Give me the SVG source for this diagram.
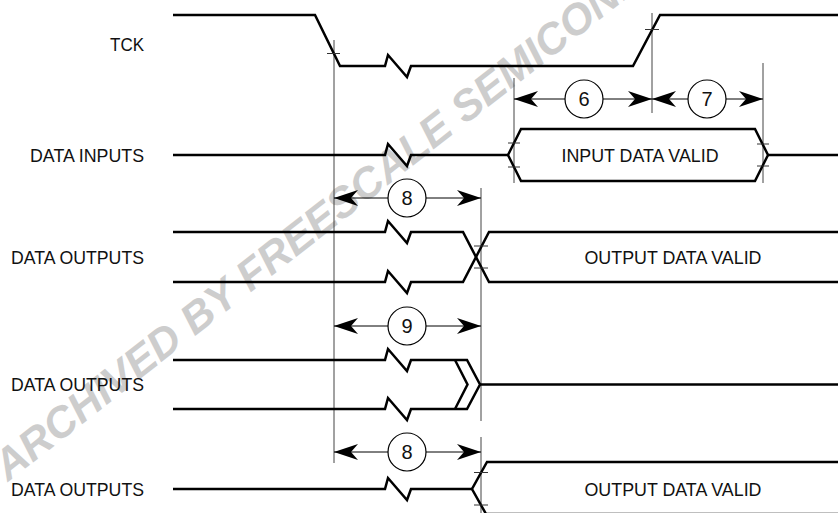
<svg xmlns="http://www.w3.org/2000/svg" width="838" height="513" viewBox="0 0 838 513">
<style>
.wm{font-family:"Liberation Sans",Arial,sans-serif;font-weight:bold;font-style:italic;font-size:43px;fill:#cdcdcd}
.lbl{font-family:"Liberation Sans",Arial,sans-serif;font-size:18.5px;fill:#111;text-anchor:end}
.val{font-family:"Liberation Sans",Arial,sans-serif;font-size:18.5px;fill:#111;text-anchor:middle}
.num{font-family:"Liberation Sans",Arial,sans-serif;font-size:20px;fill:#111;text-anchor:middle}
.wave{fill:none;stroke:#000;stroke-width:2.5;stroke-linejoin:miter}
.tick{fill:none;stroke:#333;stroke-width:1}
.vl{fill:none;stroke:#444;stroke-width:1}
.dim{fill:none;stroke:#000;stroke-width:1;marker-start:url(#ah);marker-end:url(#ah)}
.circ{fill:#fff;stroke:#000;stroke-width:1.2}
</style>
<defs>
<marker id="ah" markerUnits="userSpaceOnUse" markerWidth="30" markerHeight="20" viewBox="-26 -10 28 20" refX="0" refY="0" orient="auto-start-reverse">
<path d="M0,0 L-24,-8 L-17,0 L-24,8 Z" fill="#000"/>
</marker>
</defs>
<rect width="838" height="513" fill="#fff"/>
<text class="wm" transform="translate(8,482) rotate(-38)">ARCHIVED BY FREESCALE SEMICONDUCTOR</text>

<g id="connectors">
<line class="vl" x1="334" y1="40" x2="334" y2="463"/>
<line class="vl" x1="652" y1="13" x2="652" y2="113"/>
<line class="vl" x1="514" y1="78" x2="514" y2="183"/>
<line class="vl" x1="763" y1="63" x2="763" y2="183"/>
<line class="vl" x1="481" y1="188" x2="481" y2="421"/>
<line class="vl" x1="481" y1="437" x2="481" y2="513"/>
<line class="dim" x1="514" y1="99" x2="652" y2="99"/>
<line class="dim" x1="652" y1="99" x2="763" y2="99"/>
<line class="dim" x1="334" y1="198" x2="481" y2="198"/>
<line class="dim" x1="334" y1="326" x2="481" y2="326"/>
<line class="dim" x1="334" y1="452" x2="481" y2="452"/>
</g>

<g id="t6"><circle class="circ" cx="584" cy="99" r="19"/><text class="num" x="584" y="106">6</text></g>
<g id="t7"><circle class="circ" cx="707" cy="99" r="19"/><text class="num" x="707" y="106">7</text></g>
<g id="t8a"><circle class="circ" cx="407" cy="198" r="19"/><text class="num" x="407" y="205">8</text></g>
<g id="t9"><circle class="circ" cx="407" cy="326" r="19"/><text class="num" x="407" y="333">9</text></g>
<g id="t8b"><circle class="circ" cx="407" cy="452" r="19"/><text class="num" x="407" y="459">8</text></g>

<g id="tck">
<text class="lbl" x="144" y="51" textLength="34" lengthAdjust="spacingAndGlyphs">TCK</text>
<path class="wave" d="M173,15 L315,15 L340,66 L385,66 L388,55 L407,77 L411,66 L633,66 L660,15 L838,15"/>
<path class="tick" d="M327,53.5 H340 M645,29.5 H659"/>
</g>

<g id="data-inputs">
<text class="lbl" x="144" y="162" textLength="114" lengthAdjust="spacingAndGlyphs">DATA INPUTS</text>
<path class="wave" d="M173,155 L385,155 L388,144 L407,166 L411,155 L508,155"/>
<path class="wave" d="M508,155 L521,129 L755,129 L768,155 L755,181 L521,181 Z"/>
<path class="wave" d="M768,155 L838,155"/>
<path class="tick" d="M508,143 H520 M508,167 H520 M757,144 H769 M757,166 H769"/>
<text class="val" x="640" y="162" textLength="157" lengthAdjust="spacingAndGlyphs">INPUT DATA VALID</text>
</g>

<g id="data-outputs-1">
<text class="lbl" x="144" y="264" textLength="133" lengthAdjust="spacingAndGlyphs">DATA OUTPUTS</text>
<path class="wave" d="M173,232 L385,232 L388,221 L407,243 L411,232 L463,232 L489,282 L838,282"/>
<path class="wave" d="M173,282 L385,282 L388,271 L407,293 L411,282 L463,282 L489,232 L838,232"/>
<path class="tick" d="M474,246 H488 M474,268 H488"/>
<text class="val" x="673" y="264" textLength="177" lengthAdjust="spacingAndGlyphs">OUTPUT DATA VALID</text>
</g>

<g id="data-outputs-2">
<text class="lbl" x="144" y="391" textLength="133" lengthAdjust="spacingAndGlyphs">DATA OUTPUTS</text>
<path class="wave" d="M173,360 L385,360 L388,349 L407,371 L411,360 L467,360 L480,384.5 L467,409 L411,409 L407,420 L388,398 L385,409 L173,409"/>
<path class="wave" d="M455,360 L467.5,384.5 L455,409"/>
<path class="wave" d="M480,384.5 L838,384.5"/>
</g>

<g id="data-outputs-3">
<text class="lbl" x="144" y="496" textLength="133" lengthAdjust="spacingAndGlyphs">DATA OUTPUTS</text>
<path class="wave" d="M173,489 L385,489 L388,478 L407,500 L411,489 L472,489"/>
<path class="wave" d="M838,462 L487,462 L472,489 L486,514 L838,514"/>
<path class="tick" d="M474,472.5 H488 M474,505 H488"/>
<text class="val" x="673" y="496" textLength="177" lengthAdjust="spacingAndGlyphs">OUTPUT DATA VALID</text>
</g>
</svg>
